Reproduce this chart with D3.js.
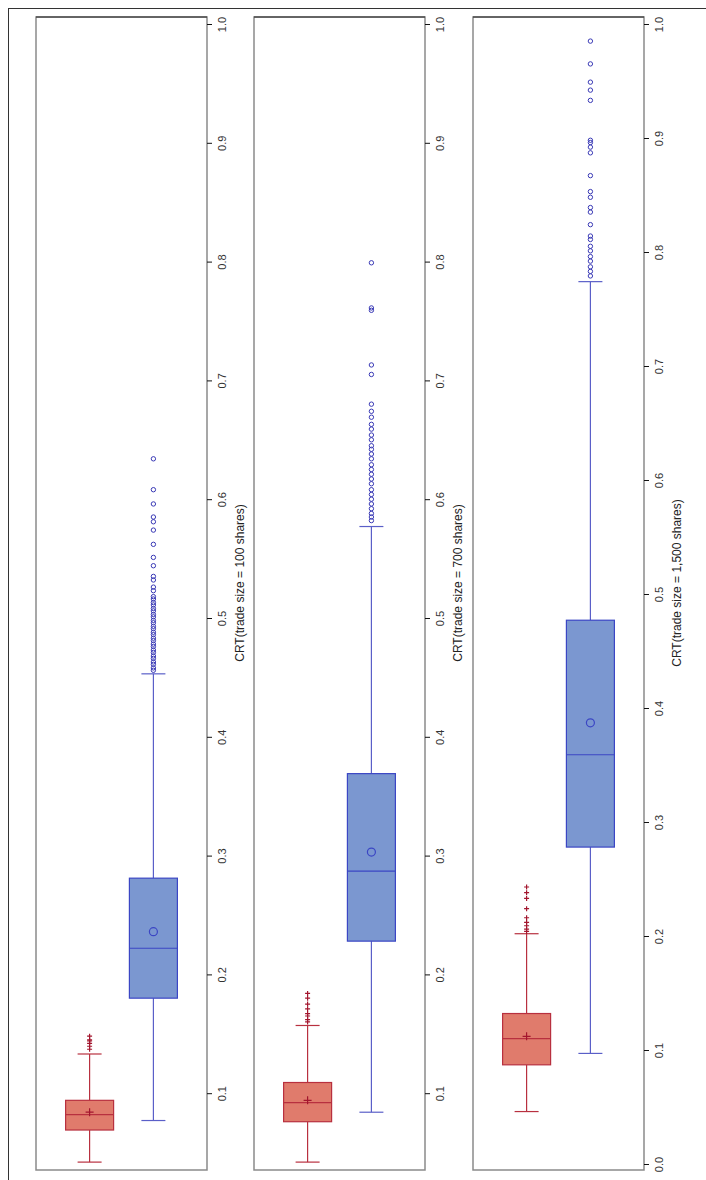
<!DOCTYPE html>
<html>
<head>
  <meta charset="utf-8">
  <title>CRT box plots</title>
  <script src="https://cdn.jsdelivr.net/npm/d3@7"></script>
  <style>
    body { margin: 0; background: #fff; }
    text { font-family: "Liberation Sans", Arial, sans-serif; }
  </style>
</head>
<body>
  <script type="text/javascript">
   // Werte
   var titles = ["CRT(trade size = 100 shares)", "CRT(trade size = 700 shares)", "CRT(trade size = 1,500 shares)"];
   var groups = ["sell", "buy"];
   var tickValues = [0.0, 0.1, 0.2, 0.3, 0.4, 0.5, 0.6, 0.7, 0.8, 0.9, 1.0];

   // [untere Antenne, Q1, Median, Mittelwert, Q3, obere Antenne]
   var redStats = [
     [0.042, 0.069, 0.082, 0.084, 0.094, 0.133],
     [0.042, 0.076, 0.092, 0.094, 0.109, 0.157],
     [0.046, 0.087, 0.110, 0.112, 0.132, 0.202]
   ];
   var blueStats = [
     [0.077, 0.180, 0.222, 0.236, 0.281, 0.453],
     [0.084, 0.228, 0.287, 0.303, 0.369, 0.577],
     [0.097, 0.278, 0.359, 0.387, 0.477, 0.774]
   ];

   var redOutliers = [
     [0.137, 0.1395, 0.142, 0.144, 0.145, 0.148],
     [0.160, 0.162, 0.165, 0.167, 0.171, 0.175, 0.180, 0.184],
     [0.204, 0.206, 0.209, 0.212, 0.216, 0.224, 0.233, 0.238, 0.243]
   ];
   var blueOutliers = [
     [0.456, 0.458, 0.461, 0.463, 0.466, 0.468, 0.471, 0.473, 0.476, 0.478, 0.481, 0.483,
      0.486, 0.488, 0.491, 0.493, 0.496, 0.498, 0.501, 0.503, 0.506, 0.508, 0.511, 0.513,
      0.516, 0.518, 0.523, 0.526, 0.532, 0.535, 0.544, 0.551, 0.562, 0.574, 0.581, 0.585,
      0.596, 0.608, 0.634],
     [0.582, 0.585, 0.588, 0.592, 0.596, 0.600, 0.604, 0.608, 0.613, 0.617, 0.621, 0.625,
      0.629, 0.634, 0.638, 0.642, 0.645, 0.650, 0.654, 0.659, 0.663, 0.669, 0.674, 0.680,
      0.705, 0.713, 0.759, 0.761, 0.799],
     [0.779, 0.783, 0.787, 0.792, 0.796, 0.801, 0.805, 0.811, 0.814, 0.824, 0.835, 0.839,
      0.848, 0.853, 0.867, 0.887, 0.892, 0.896, 0.898, 0.933, 0.942, 0.949, 0.965, 0.985]
   ];

   var breite = 706;
   var hoehe = 1180;

   // Lage der drei Felder
   var panelLeft = [36, 254, 473];
   var panelWidth = 171;
   var panelTop = 17;
   var panelBottom = 1170;
   // Pixel für den Wert 0 je Feld (1.0 liegt immer bei 24)
   var zeroY = [1212, 1212, 1164];

   var redFill = "#e07b6c", redLine = "#b8303f", redDark = "#a3162e";
   var blueFill = "#7b97d0", blueLine = "#3b46c4", blueWhisk = "#5a5fc8", blueDark = "#3a3ab6";

   var svg = d3.select("body")
               .append("svg")
               .attr("width", breite)
               .attr("height", hoehe);

   // äußerer Rahmen (nur oben und links sichtbar)
   svg.append("line").attr("x1", 8).attr("y1", 8.5).attr("x2", breite).attr("y2", 8.5)
      .attr("stroke", "#333").attr("stroke-width", 1);
   svg.append("line").attr("x1", 8.5).attr("y1", 8).attr("x2", 8.5).attr("y2", hoehe)
      .attr("stroke", "#333").attr("stroke-width", 1);

   titles.forEach(function(title, i) {
     var x0 = panelLeft[i];
     var y = d3.scaleLinear().domain([0, 1]).range([zeroY[i], 24]);
     var x = d3.scalePoint().domain(groups).range([x0, x0 + panelWidth]).padding(0.84);
     var g = svg.append("g");

     // Rahmen des Feldes
     g.append("rect")
      .attr("x", x0).attr("y", panelTop)
      .attr("width", panelWidth).attr("height", panelBottom - panelTop)
      .attr("fill", "none").attr("stroke", "#8a8a8a").attr("stroke-width", 1.5);
     g.append("line")
      .attr("x1", x0).attr("x2", x0 + panelWidth)
      .attr("y1", panelTop).attr("y2", panelTop)
      .attr("stroke", "#222").attr("stroke-width", 1);

     // Achse rechts mit gedrehten Beschriftungen
     var axisX = x0 + panelWidth;
     var ticks = tickValues.filter(function(t) { return y(t) <= panelBottom; });
     var axis = d3.axisRight(y).tickValues(ticks).tickSize(5).tickFormat(d3.format(".1f"));
     var ax = g.append("g").attr("transform", "translate(" + axisX + ",0)").call(axis);
     ax.select(".domain").remove();
     ax.selectAll(".tick line").attr("stroke", "#111");
     ax.selectAll(".tick text")
       .attr("x", 0).attr("dy", null)
       .attr("transform", "translate(15,0) rotate(-90)")
       .attr("text-anchor", "middle")
       .attr("dominant-baseline", "central")
       .attr("font-size", 11)
       .attr("font-family", "Liberation Sans, Arial, sans-serif")
       .attr("fill", "#333");

     g.append("text")
      .attr("transform", "translate(" + (axisX + 33) + ",583) rotate(-90)")
      .attr("text-anchor", "middle")
      .attr("dominant-baseline", "central")
      .attr("font-size", 12)
      .attr("fill", "#222")
      .text(title);

     var boxW = 48, capW = 24;

     function drawBox(stats, cx, fill, line, whisk) {
       // Antennen
       g.append("line").attr("x1", cx).attr("x2", cx)
        .attr("y1", y(stats[0])).attr("y2", y(stats[1]))
        .attr("stroke", whisk).attr("stroke-width", 1.2);
       g.append("line").attr("x1", cx).attr("x2", cx)
        .attr("y1", y(stats[4])).attr("y2", y(stats[5]))
        .attr("stroke", whisk).attr("stroke-width", 1.2);
       [stats[0], stats[5]].forEach(function(v) {
         g.append("line").attr("x1", cx - capW / 2).attr("x2", cx + capW / 2)
          .attr("y1", y(v)).attr("y2", y(v))
          .attr("stroke", whisk).attr("stroke-width", 1.2);
       });
       // Kasten
       g.append("rect")
        .attr("x", cx - boxW / 2).attr("y", y(stats[4]))
        .attr("width", boxW).attr("height", y(stats[1]) - y(stats[4]))
        .attr("fill", fill).attr("stroke", line).attr("stroke-width", 1.2);
       g.append("line").attr("x1", cx - boxW / 2).attr("x2", cx + boxW / 2)
        .attr("y1", y(stats[2])).attr("y2", y(stats[2]))
        .attr("stroke", line).attr("stroke-width", 1.2);
     }

     var cr = x("sell"), cb = x("buy");
     drawBox(redStats[i], cr, redFill, redLine, redLine);
     drawBox(blueStats[i], cb, blueFill, blueLine, blueWhisk);

     // Mittelwerte
     var mr = y(redStats[i][3]);
     g.append("path")
      .attr("d", "M" + (cr - 4) + "," + mr + "H" + (cr + 4) + "M" + cr + "," + (mr - 4) + "V" + (mr + 4))
      .attr("stroke", redDark).attr("stroke-width", 1.2);
     g.append("circle")
      .attr("cx", cb).attr("cy", y(blueStats[i][3])).attr("r", 4)
      .attr("fill", "none").attr("stroke", blueLine).attr("stroke-width", 1.2);

     // Ausreißer
     g.selectAll(".ro").data(redOutliers[i]).enter().append("path")
      .attr("class", "ro")
      .attr("d", function(d) {
        var yy = y(d);
        return "M" + (cr - 2.5) + "," + yy + "H" + (cr + 2.5) + "M" + cr + "," + (yy - 2.5) + "V" + (yy + 2.5);
      })
      .attr("stroke", redDark).attr("stroke-width", 1.2);
     g.selectAll(".bo").data(blueOutliers[i]).enter().append("circle")
      .attr("class", "bo")
      .attr("cx", cb).attr("cy", function(d) { return y(d); }).attr("r", 2.2)
      .attr("fill", "none").attr("stroke", blueDark).attr("stroke-width", 1);
   });
  </script>
</body>
</html>
